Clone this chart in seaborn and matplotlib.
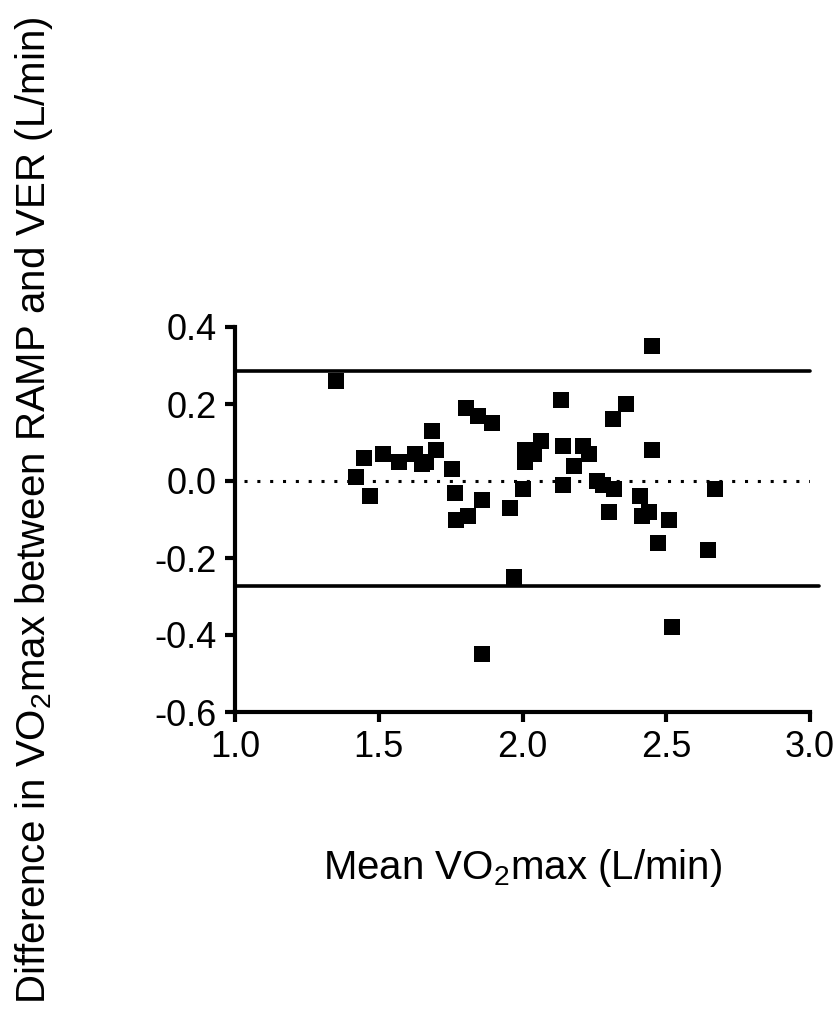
import pandas as pd
import matplotlib
matplotlib.use('Agg')
import matplotlib.pyplot as plt
import seaborn as sns

# Bland-Altman data: mean VO2max vs difference (RAMP - VER)
mean_vo2 = [1.35, 1.42, 1.45, 1.47, 1.515, 1.57, 1.625, 1.65, 1.665, 1.685,
            1.70, 1.755, 1.765, 1.77, 1.805, 1.81, 1.845, 1.86, 1.86, 1.895,
            1.955, 1.97, 2.00, 2.01, 2.01, 2.04, 2.065, 2.135, 2.14, 2.14,
            2.18, 2.21, 2.23, 2.26, 2.28, 2.30, 2.315, 2.32, 2.36, 2.41,
            2.415, 2.44, 2.45, 2.45, 2.47, 2.51, 2.52, 2.645, 2.67]
diff_vo2 = [0.26, 0.01, 0.06, -0.04, 0.07, 0.05, 0.07, 0.045, 0.05, 0.13,
            0.08, 0.03, -0.03, -0.10, 0.19, -0.09, 0.17, -0.05, -0.45, 0.15,
            -0.07, -0.25, -0.02, 0.08, 0.05, 0.07, 0.105, 0.21, 0.09, -0.01,
            0.04, 0.09, 0.07, 0.00, -0.01, -0.08, 0.16, -0.02, 0.20, -0.04,
            -0.09, -0.08, 0.08, 0.35, -0.16, -0.10, -0.38, -0.18, -0.02]
bias = 0.0
upper_loa = 0.287
lower_loa = -0.274

df = pd.DataFrame({'mean': mean_vo2, 'diff': diff_vo2})

sns.set_style('ticks')
plt.rcParams['font.family'] = ['Liberation Sans', 'DejaVu Sans']
plt.rcParams['mathtext.fontset'] = 'custom'
plt.rcParams['mathtext.rm'] = 'Liberation Sans'
plt.rcParams['text.color'] = 'black'
plt.rcParams['axes.edgecolor'] = 'black'
plt.rcParams['xtick.color'] = 'black'
plt.rcParams['ytick.color'] = 'black'

fig = plt.figure(figsize=(8.37, 10.27), dpi=100)
ax = fig.add_axes([235/837, 1 - 712/1027, 575/837, 385/1027])

ax.plot([1.0, 3.0], [upper_loa, upper_loa], color='black', lw=2.6, clip_on=False)
ax.plot([1.0, 3.03], [lower_loa, lower_loa], color='black', lw=2.6, clip_on=False)
ax.plot([1.03, 3.0], [bias, bias], color='black', lw=2.2, linestyle=(0, (1, 3.2)))

sns.scatterplot(data=df, x='mean', y='diff', marker='s', s=118, color='black',
                linewidth=0, ax=ax, zorder=3, clip_on=False)

ax.set_xlim(1.0, 3.0)
ax.set_ylim(-0.6, 0.4)
ax.set_xticks([1.0, 1.5, 2.0, 2.5, 3.0])
ax.set_yticks([-0.6, -0.4, -0.2, 0.0, 0.2, 0.4])
ax.set_xticklabels(['1.0', '1.5', '2.0', '2.5', '3.0'])
ax.set_yticklabels(['-0.6', '-0.4', '-0.2', '0.0', '0.2', '0.4'])
sns.despine(ax=ax)
for side in ['left', 'bottom']:
    ax.spines[side].set_linewidth(3)
    ax.spines[side].set_color('black')
ax.tick_params(width=3, length=7, labelsize=26, colors='black', pad=6)
ax.set_xlabel('')
ax.set_ylabel('')

fig.text(523/837, 1 - 868/1027, 'Mean VO$_\\mathregular{2}$max (L/min)',
         ha='center', va='center', fontsize=29)
fig.text(34/837, 1 - 510/1027,
         'Difference in VO$_\\mathregular{2}$max between RAMP and VER (L/min)',
         ha='center', va='center', rotation=90, fontsize=29)

fig.savefig('out.png', dpi=100, facecolor='white')
plt.close()
